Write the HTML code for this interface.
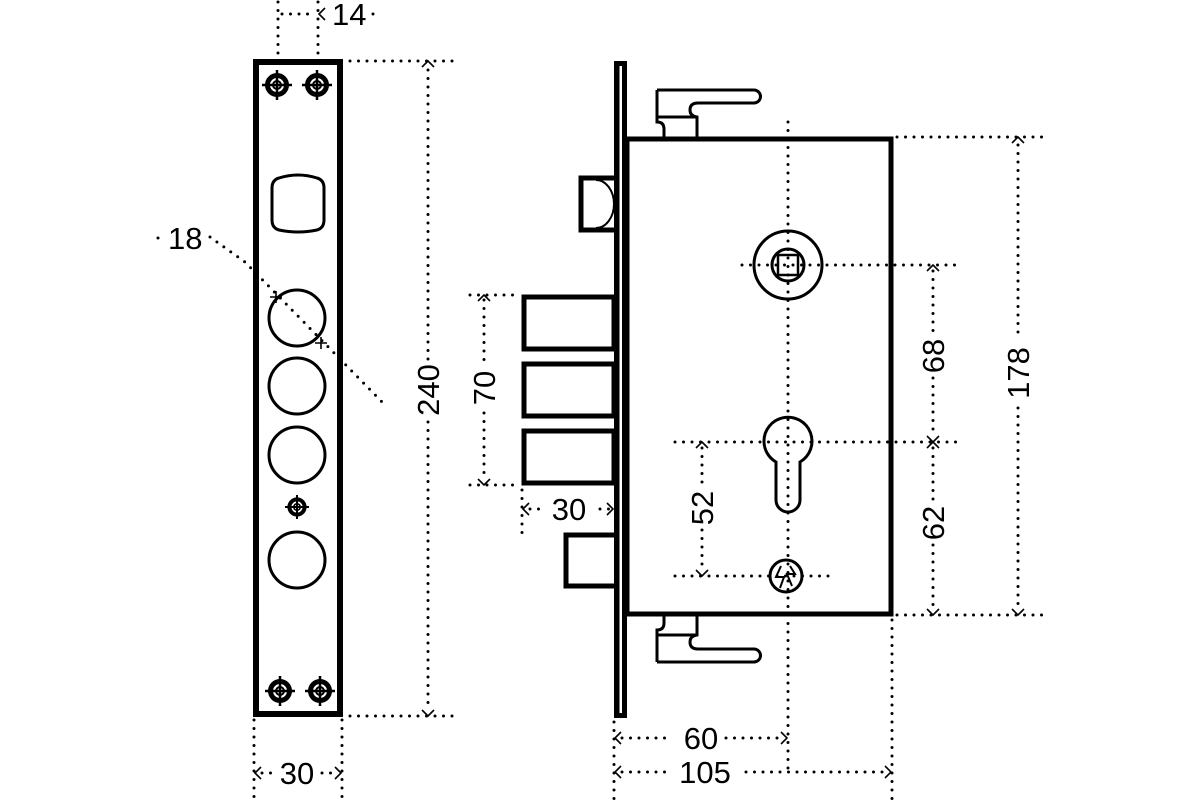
<!DOCTYPE html>
<html><head><meta charset="utf-8"><style>
html,body{margin:0;padding:0;background:#fff;width:1200px;height:800px;overflow:hidden}
svg{display:block}
text{font-family:"Liberation Sans Narrow","Liberation Sans",sans-serif;font-size:31px;fill:#000}
.d{stroke:#000;stroke-width:3;stroke-linecap:round;stroke-dasharray:0 8.5;fill:none}
.a{stroke:#000;stroke-width:1.6;fill:none}
</style></head><body>
<svg width="1200" height="800" viewBox="0 0 1200 800" xmlns="http://www.w3.org/2000/svg">
<defs>
<g id="scr"><circle r="9.5" fill="none" stroke="#000" stroke-width="5"/><circle r="4" fill="none" stroke="#000" stroke-width="2"/><path d="M-15 0H15M0 -15V15" stroke="#000" stroke-width="2.5"/></g>
</defs>
<!-- LEFT FACEPLATE -->
<rect x="256" y="62" width="84" height="652" fill="none" stroke="#000" stroke-width="6"/>
<use href="#scr" x="277" y="85"/><use href="#scr" x="317" y="85"/>
<use href="#scr" x="280" y="691"/><use href="#scr" x="320" y="691"/>
<g transform="translate(297,507) scale(0.8)"><use href="#scr"/></g>
<path d="M279 178 Q298 172 317 178 Q324 180 324 188 V220 Q324 228 317 230 Q298 234 279 230 Q272 228 272 220 V188 Q272 180 279 178Z" fill="none" stroke="#000" stroke-width="3"/>
<g fill="none" stroke="#000" stroke-width="3">
<circle cx="297" cy="318" r="28"/><circle cx="297" cy="386" r="28"/><circle cx="297" cy="455" r="28"/><circle cx="297" cy="560" r="28"/>
</g>
<!-- 18 leader -->
<circle cx="158" cy="238" r="1.5"/>
<text x="168" y="249">18</text>
<path class="d" d="M210 237 L245 262 L385 405"/>
<path class="a" d="M270 297 h12 M276 291 v12 M315 343 h12 M321 337 v12"/>
<!-- 14 -->
<path class="d" d="M278 2 V56 M318 2 V56 M282 14 H312"/>
<path class="a" d="M325 8 L319 14 L325 20"/>
<text x="332" y="25">14</text><circle cx="373" cy="14" r="1.5"/>
<!-- 240 -->
<path class="d" d="M350 61 H455 M350 716 H455 M428 70 V360 M428 422 V710"/>
<path class="a" d="M422 67 L428 61 L434 67 M422 710 L428 716 L434 710"/>
<text transform="translate(439,390) rotate(-90)" text-anchor="middle">240</text>
<!-- 30 left -->
<path class="d" d="M254 720 V800 M342 720 V800 M262 773 H272 M322 773 H334"/>
<path class="a" d="M261 767 L255 773 L261 779 M335 767 L341 773 L335 779"/>
<text x="297" y="784" text-anchor="middle">30</text>

<!-- RIGHT: faceplate -->
<rect x="614" y="61" width="13" height="657" fill="#000"/>
<rect x="619.5" y="66" width="2.5" height="647" fill="#fff"/>
<!-- body -->
<rect x="627" y="139" width="264" height="475" fill="none" stroke="#000" stroke-width="5"/>
<!-- latch -->
<path d="M614 178 H581 V230 H614" fill="none" stroke="#000" stroke-width="5"/>
<path d="M596 180 A18 24 0 0 1 596 228" fill="none" stroke="#000" stroke-width="2"/>
<!-- handles -->
<g fill="none" stroke="#000" stroke-width="3">
<path d="M657 90 H754 A6.5 6.5 0 0 1 754 103 H698 Q690 103 690 110 Q690 116 697 117 V137 M657 90 V117 H697 M657 117 V122 Q664 122 664 129 V137"/>
<path d="M657 662 H754 A6.5 6.5 0 0 0 754 649 H698 Q690 649 690 642 Q690 636 697 635 V615 M657 662 V635 H697 M657 635 V630 Q664 630 664 623 V615"/>
</g>
<!-- bolts -->
<g fill="none" stroke="#000" stroke-width="5">
<rect x="524" y="297" width="90" height="52"/>
<rect x="524" y="364" width="90" height="52"/>
<rect x="524" y="431" width="90" height="52"/>
<path d="M614 535 H566 V586 H614"/>
</g>
<!-- spindle -->
<g fill="none" stroke="#000">
<circle cx="788" cy="265" r="34" stroke-width="3"/>
<circle cx="788" cy="265" r="16" stroke-width="3"/>
<rect x="778" y="255" width="20" height="20" stroke-width="2.5"/>
<path d="M764 442 A24 24 0 1 1 800 462 V500 A12 12 0 0 1 776 500 V462 A24 24 0 0 1 764 442Z" stroke-width="3"/>
<circle cx="786" cy="576" r="16" stroke-width="3"/>
<path d="M781 566 L776 577 H784 L780 588 M790 566 L795 574 L787 574 L792 586" stroke-width="2"/>
</g>
<!-- center dotted -->
<path class="d" d="M788 122 V770"/>
<path class="d" d="M742 265 H960 M675 442 H960 M675 576 H835"/>
<!-- 70 -->
<path class="d" d="M470 295 H520 M470 485 H520 M484 300 V365 M484 413 V480"/>
<path class="a" d="M478 301 L484 295 L490 301 M478 479 L484 485 L490 479"/>
<text transform="translate(495,388) rotate(-90)" text-anchor="middle">70</text>
<!-- 30 -->
<path class="d" d="M522 490 V535 M530 509 H540 M600 509 H610"/>
<path class="a" d="M529 503 L523 509 L529 515 M607 503 L613 509 L607 515"/>
<text x="569" y="520" text-anchor="middle">30</text>
<!-- 52 -->
<path class="d" d="M702 448 V485 M702 530 V570"/>
<path class="a" d="M696 448 L702 442 L708 448 M696 570 L702 576 L708 570"/>
<text transform="translate(713,508) rotate(-90)" text-anchor="middle">52</text>
<!-- 68 / 62 -->
<path class="d" d="M933 271 V335 M933 378 V436 M933 448 V500 M933 545 V610"/>
<path class="a" d="M927 271 L933 265 L939 271 M927 436 L939 448 M939 436 L927 448 M927 609 L933 615 L939 609"/>
<text transform="translate(944,356) rotate(-90)" text-anchor="middle">68</text>
<text transform="translate(944,523) rotate(-90)" text-anchor="middle">62</text>
<!-- 178 -->
<path class="d" d="M897 137 H1045 M897 615 H1045 M1018 145 V338 M1018 408 V610"/>
<path class="a" d="M1012 143 L1018 137 L1024 143 M1012 609 L1018 615 L1024 609"/>
<text transform="translate(1029,373) rotate(-90)" text-anchor="middle">178</text>
<!-- 60 / 105 -->
<path class="d" d="M614 722 V800 M892 620 V800 M622 738 H670 M726 738 H780 M622 772 H665 M746 772 H885"/>
<path class="a" d="M621 732 L615 738 L621 744 M781 732 L787 738 L781 744 M621 766 L615 772 L621 778 M885 766 L891 772 L885 778"/>
<text x="701" y="749" text-anchor="middle">60</text>
<text x="705" y="783" text-anchor="middle">105</text>
</svg>
</body></html>
